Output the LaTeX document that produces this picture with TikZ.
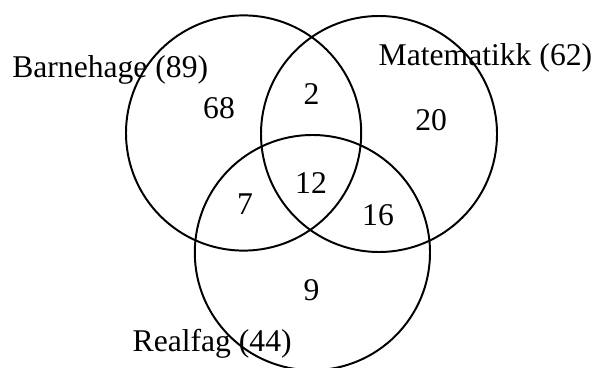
\documentclass[tikz,border=0pt]{standalone}
\usepackage{fontspec}
\setmainfont{Liberation Serif}
\tikzset{tall/.style={inner sep=0pt,font=\fontsize{22.5}{27}\selectfont}}
\begin{document}
\begin{tikzpicture}[scale=1]
\useasboundingbox (0,0) rectangle (14.875,9.175);

\draw[line width=1.4pt] (6.09,5.85) circle (2.94);
\draw[line width=1.4pt] (9.475,5.825) circle (2.95);
\draw[line width=1.4pt] (7.81,2.86) circle (2.94);

\node[tall,anchor=base west] (barnehage) at (0.3,7.24) {Barnehage (89)};
\node[tall,anchor=base west] (matte) at (9.46,7.53) {Matematikk (62)};
\node[tall,anchor=base west] (realfag) at (3.31,0.38) {Realfag (44)};

\node[tall,anchor=base] (bOnly) at (5.475,6.22) {68};
\node[tall,anchor=base] (bm) at (7.79,6.55) {2};
\node[tall,anchor=base] (mOnly) at (10.78,5.91) {20};
\node[tall,anchor=base] (alle) at (7.775,4.34) {12};
\node[tall,anchor=base] (br) at (6.125,3.82) {7};
\node[tall,anchor=base] (mr) at (9.45,3.55) {16};
\node[tall,anchor=base] (rOnly) at (7.79,1.675) {9};
\end{tikzpicture}
\end{document}
